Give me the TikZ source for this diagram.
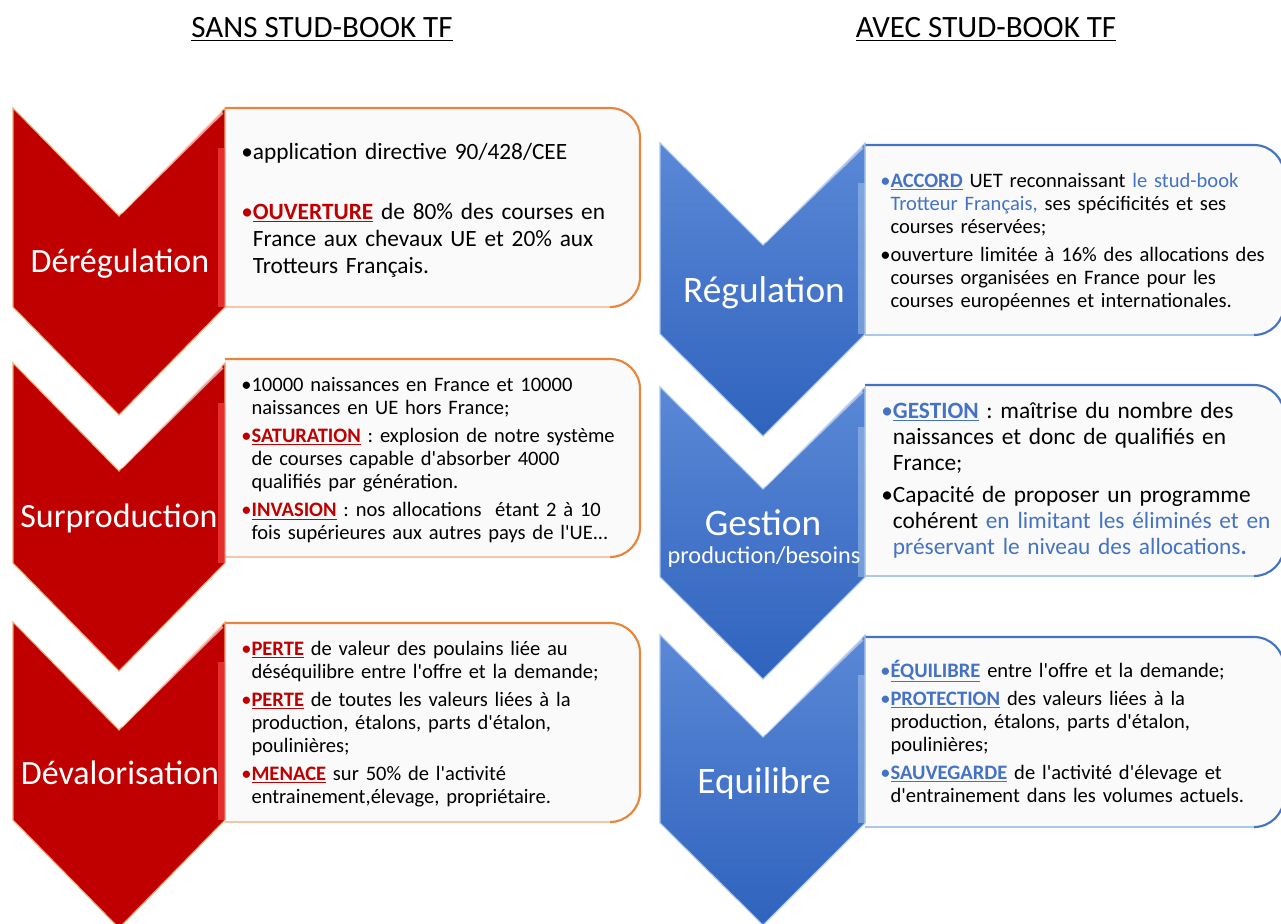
\documentclass[tikz,border=0pt]{standalone}
\usepackage{fontspec}
\setmainfont{Carlito}[Ligatures=TeXOff]
\definecolor{cred}{HTML}{C00000}
\definecolor{cblue}{HTML}{4472C4}
\definecolor{corange}{HTML}{E8843C}
\definecolor{corlight}{HTML}{F6C6A8}
\definecolor{cbluelight}{HTML}{A9C8EC}
\definecolor{bluetop}{HTML}{5B88D7}
\definecolor{bluebot}{HTML}{2F63BD}
\definecolor{boxfill}{HTML}{FAFAFA}
\newcommand\kr[1]{\textcolor{cred}{\textbf{\underline{#1}}}}
\newcommand\kb[1]{\textcolor{cblue}{\textbf{\underline{#1}}}}
\newcommand\itm[1][black]{\noindent\hangindent=0.5em\hangafter=1\makebox[0.5em][l]{\textcolor{#1}{\textbullet}}}
\newcommand\fbig{\fontsize{17.5}{20.25}\selectfont}
\newcommand\fsmall{\fontsize{15.4}{17.25}\selectfont}
\tikzset{
  lbl/.style={text=white, inner sep=0pt, anchor=base, font=\fontsize{25.5}{28}\selectfont},
  rlbl/.style={lbl, font=\fontsize{28}{30}\selectfont},
  txt/.style={anchor=base west, inner sep=0pt, text width=330pt, align=left, text=black},
  ttl/.style={anchor=base, inner sep=0pt, font=\fontsize{23.25}{26}\selectfont},
  redchev/.style={fill=cred, draw=corange!70, line width=0.8},
  bluechev/.style={top color=bluetop, bottom color=bluebot, draw=cbluelight, line width=0.8},
}
\frenchspacing
\begin{document}
\begin{tikzpicture}[x=0.75pt,y=-0.75pt]
\useasboundingbox (0,0) rectangle (1281,924);
\fill[white] (0,0) rectangle (1281,924);

% titles
\node[ttl] (ttlL) at (322,38) {\underline{SANS STUD-BOOK TF}};
\node[ttl] (ttlR) at (986,38) {\underline{AVEC STUD-BOOK TF}};

% left boxes
\foreach \yt/\yb in {108/307,359/557,623/822}{
  \fill[boxfill] (225,\yt) -- (610,\yt) arc[start angle=-90,end angle=0,radius=30]
     -- (640,\yb-30) arc[start angle=0,end angle=90,radius=30] -- (225,\yb) -- cycle;
  \draw[corange, line width=1.6] (225,\yt) -- (610,\yt) arc[start angle=-90,end angle=0,radius=30]
     -- (640,\yb-30) arc[start angle=0,end angle=90,radius=30];
  \draw[corlight, line width=1.6] (610,\yb) -- (225,\yb);
}
% right boxes
\foreach \yt/\yb in {145/335,385/576,637/827}{
  \fill[boxfill] (865,\yt) -- (1254,\yt) arc[start angle=-90,end angle=0,radius=30]
     -- (1284,\yb-30) arc[start angle=0,end angle=90,radius=30] -- (865,\yb) -- cycle;
  \draw[cblue, line width=1.6] (865,\yt) -- (1254,\yt) arc[start angle=-90,end angle=0,radius=30]
     -- (1284,\yb-30) arc[start angle=0,end angle=90,radius=30];
  \draw[cbluelight, line width=1.6] (1254,\yb) -- (865,\yb);
}

% red chevrons
\foreach \yt/\yb in {108/307,363/563,622/820}{
  \filldraw[redchev] (13,\yt) -- (119,\yt+108) -- (225,\yt) -- (225,\yb) -- (119,\yb+108) -- (13,\yb) -- cycle;
  \draw[white, opacity=0.6, line width=3] (121,\yt+104) -- (222,\yt+4);
  \fill[red!70!white, opacity=0.6] (218,\yt+40) rectangle (225,\yb);
}
% blue chevrons
\foreach \yt/\yb in {143/334,387/577,635/823}{
  \filldraw[bluechev] (660,\yt) -- (763,\yt+102) -- (865,\yt) -- (865,\yb) -- (763,\yb+102) -- (660,\yb) -- cycle;
  \draw[white, opacity=0.45, line width=3] (765,\yt+98) -- (862,\yt+4);
  \fill[cbluelight, opacity=0.5] (858,\yt+40) rectangle (865,\yb);
}

% chevron labels
\node[lbl] (lab1) at (120,272) {Dérégulation};
\node[lbl] (lab2) at (119,527) {Surproduction};
\node[lbl] (lab3) at (120,784) {Dévalorisation};
\node[rlbl] (rab1) at (764,302) {Régulation};
\node[rlbl] (rab2) at (763,535) {Gestion};
\node[lbl, font=\fontsize{18.2}{20}\selectfont] (rab2b) at (764,563) {production/besoins};
\node[rlbl] (rab3) at (764,793) {Equilibre};

% left texts
\node[txt, font=\fbig] (tl1) at (241,159) {%
\itm application directive 90/428/CEE\par\vspace{24.75pt}%
\itm[cred]\kr{OUVERTURE} de 80\% des courses en\newline France aux chevaux UE et 20\% aux\newline Trotteurs Français.\par};

\node[txt, font=\fsmall] (tl2) at (241,391) {%
\itm 10000 naissances en France et 10000\newline naissances en UE hors France;\par\vspace{4.1pt}%
\itm[cred]\kr{SATURATION} : explosion de notre système\newline de courses capable d'absorber 4000\newline qualifiés par génération.\par\vspace{4.1pt}%
\itm[cred]\kr{INVASION} : nos allocations~ étant 2 à 10\newline fois supérieures aux autres pays de l'UE...\par};

\node[txt, font=\fsmall] (tl3) at (241,655) {%
\itm[cred]\kr{PERTE} de valeur des poulains liée au\newline déséquilibre entre l'offre et la demande;\par\vspace{3.75pt}%
\itm[cred]\kr{PERTE} de toutes les valeurs liées à la\newline production, étalons, parts d'étalon,\newline poulinières;\par\vspace{3.75pt}%
\itm[cred]\kr{MENACE} sur 50\% de l'activité\newline entrainement,élevage, propriétaire.\par};

% right texts
\node[txt, font=\fsmall] (tr1) at (880,187) {%
\itm[cblue]\kb{ACCORD} UET reconnaissant \textcolor{cblue}{le stud-book}\newline \textcolor{cblue}{Trotteur Français,} ses spécificités et ses\newline courses réservées;\par\vspace{3.75pt}%
\itm ouverture limitée à 16\% des allocations des\newline courses organisées en France pour les\newline courses européennes et internationales.\par};

\node[txt, font=\fontsize{17.5}{19.5}\selectfont] (tr2) at (881,418) {%
\itm[cblue]\kb{GESTION} : maîtrise du nombre des\newline naissances et donc de qualifiés en\newline France;\par\vspace{4.5pt}%
\itm Capacité de proposer un programme\newline cohérent \textcolor{cblue}{en limitant les éliminés et en}\newline \textcolor{cblue}{préservant le niveau des allocations\textbf{.}}\par};

\node[txt, font=\fsmall] (tr3) at (880,677) {%
\itm[cblue]\kb{ÉQUILIBRE} entre l'offre et la demande;\par\vspace{3.75pt}%
\itm[cblue]\kb{PROTECTION} des valeurs liées à la\newline production, étalons, parts d'étalon,\newline poulinières;\par\vspace{3.75pt}%
\itm[cblue]\kb{SAUVEGARDE} de l'activité d'élevage et\newline d'entrainement dans les volumes actuels.\par};
\end{tikzpicture}
\end{document}
